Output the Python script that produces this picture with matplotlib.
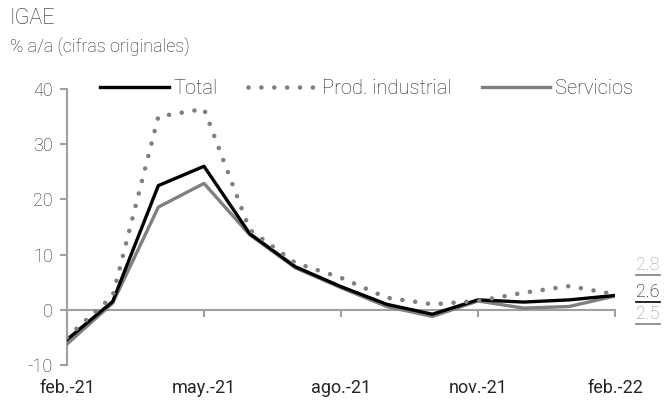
import matplotlib
matplotlib.use("Agg")
import matplotlib.pyplot as plt
from matplotlib.lines import Line2D
import numpy as np

plt.rcParams['font.family'] = ['Roboto', 'DejaVu Sans']

months = ["feb.-21", "mar.-21", "abr.-21", "may.-21", "jun.-21", "jul.-21", "ago.-21",
          "sep.-21", "oct.-21", "nov.-21", "dic.-21", "ene.-22", "feb.-22"]
total = [-5.4, 1.5, 22.5, 26.0, 13.8, 7.8, 4.2, 1.0, -0.8, 1.8, 1.4, 1.8, 2.6]
prod_ind = [-5.0, 2.5, 35.0, 36.4, 14.5, 8.5, 5.8, 2.2, 1.0, 1.6, 3.1, 4.3, 2.8]
servicios = [-6.2, 1.2, 18.6, 22.9, 13.6, 7.6, 4.0, 0.6, -1.2, 1.6, 0.3, 0.6, 2.5]
end_labels = ["2.8", "2.6", "2.5"]
yticks = [-10, 0, 10, 20, 30, 40]

TXT = '#262626'
AX = '#a0a0a0'
FW = 'light'

fig = plt.figure(figsize=(6.64, 4.03), dpi=100)
ax = fig.add_axes([67/664, 1-365/403, (615-67)/664, (365-89)/403])
x = np.arange(len(months))

ax.plot(x, servicios, color='#808080', lw=2.4, label='Servicios', zorder=3, solid_capstyle='round')
ax.plot(x, total, color='black', lw=2.4, label='Total', zorder=4)
ax.plot(x, prod_ind, color='#808080', lw=3.3, linestyle=(0, (0.01, 2.8)),
        dash_capstyle='round', label='Prod. industrial', zorder=5)

ax.set_xlim(0, len(months)-1)
ax.set_ylim(-10, 40)
ax.set_yticks(yticks)
ax.set_yticklabels([str(v) for v in yticks], fontweight=FW)
ax.set_xticks(x[::3])
ax.set_xticklabels([months[i] for i in range(0, len(months), 3)], fontweight=FW)

for s in ['top', 'right']:
    ax.spines[s].set_visible(False)
ax.spines['left'].set_color(AX)
ax.spines['left'].set_linewidth(1.5)
ax.spines['bottom'].set_color(AX)
ax.spines['bottom'].set_linewidth(1.5)
ax.spines['bottom'].set_position(('data', 0))
ax.tick_params(axis='y', colors=AX, labelcolor=TXT, labelsize=13, length=5, width=1.5, pad=5)
ax.tick_params(axis='x', colors=AX, labelcolor=TXT, labelsize=13, length=5, width=1.5, pad=45)

handles = [Line2D([], [], color='black', lw=2.4),
           Line2D([], [], color='#808080', lw=3.3, linestyle=(0, (0.01, 2.8)), dash_capstyle='round'),
           Line2D([], [], color='#808080', lw=2.4)]
leg = ax.legend(handles, ['Total', 'Prod. industrial', 'Servicios'], ncol=3, frameon=False,
                loc='center', bbox_to_anchor=(0.547, 1.0), handlelength=3.4, handletextpad=0.25,
                columnspacing=1.5, prop={'weight': FW, 'size': 14.5})
for t in leg.get_texts():
    t.set_color(TXT)

fig.text(10/664, 1-19/403, 'IGAE', fontsize=15.5, color=TXT, va='center', ha='left', fontweight=FW)
fig.text(10/664, 1-47/403, '% a/a (cifras originales)', fontsize=13, color=TXT, va='center',
         ha='left', fontweight=FW)

lab_y = [265, 292, 314]
lab_c = ['#a6a6a6', 'black', '#909090']
line_c = ['#808080', 'black', '#808080']
for s, yy, c, lc in zip(end_labels, lab_y, lab_c, line_c):
    fig.text(648/664, 1-yy/403, s, fontsize=13, color=c, ha='center', va='center', fontweight=FW)
    fig.add_artist(Line2D([636/664, 660/664], [1-(yy+10)/403]*2, color=lc, lw=1.2))

fig.savefig('out.png', dpi=100)
